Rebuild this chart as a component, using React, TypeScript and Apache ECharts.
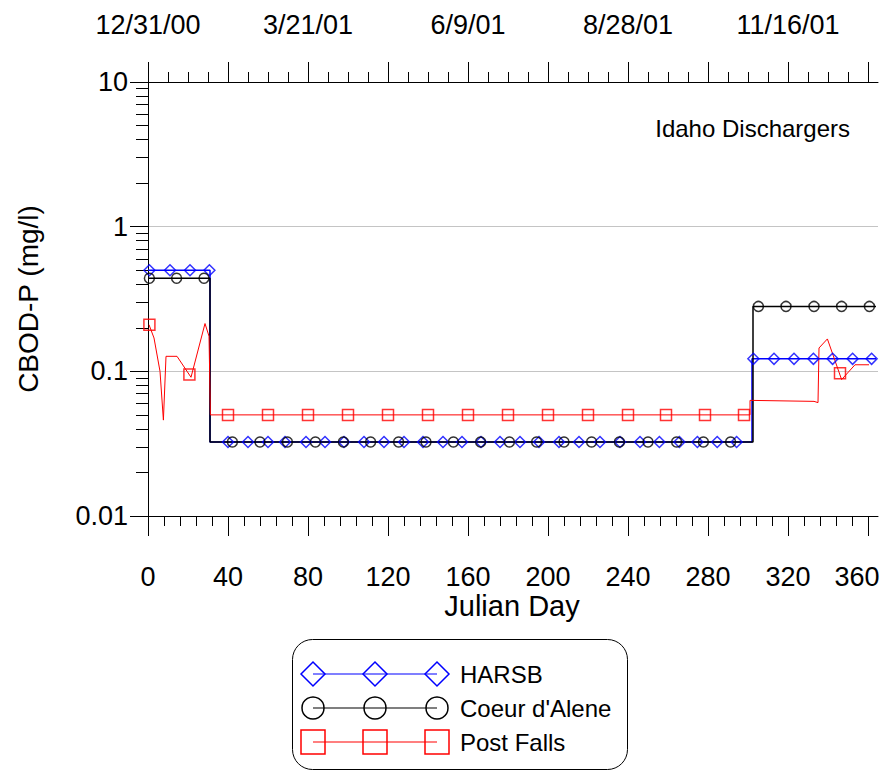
import React, { useEffect, useRef } from "react";
import * as echarts from "echarts";

// ---------- data ----------
const xMajorTicks = [0, 40, 80, 120, 160, 200, 240, 280, 320, 360];
const xBottomMinorStep = 8;
const xTopMinorStep = 10;
const topLabelDays = [0, 80, 160, 240, 320];
const topLabels = ["12/31/00", "3/21/01", "6/9/01", "8/28/01", "11/16/01"];
const yDecades = [0.01, 0.1, 1, 10];

const harsbLine: [number, number][] = [
  [0, 0.5], [31, 0.5], [31, 0.0325], [302, 0.0325], [302, 0.122], [364, 0.122],
];
const coeurLine: [number, number][] = [
  [0, 0.44], [31, 0.44], [31, 0.0325], [302.5, 0.0325], [302.5, 0.281], [364, 0.281],
];
const postFallsLine: [number, number][] = [
  [0.5, 0.21], [3, 0.17], [6, 0.1], [7.7, 0.046], [9, 0.127], [14.5, 0.127],
  [21.5, 0.091], [28.5, 0.214], [30.5, 0.175], [31.2, 0.05], [301, 0.05],
  [301, 0.063], [333, 0.062], [335, 0.0608], [335.5, 0.145], [339.7, 0.1675],
  [346.8, 0.0877], [353.5, 0.111], [360.5, 0.111],
];

// marker positions (days) grouped by level
const harsbLevels = [0.5, 0.0325, 0.122];
const harsbMarkerDays = [
  [0.7, 11, 21, 30.7],
  [40, 50, 60, 68.5, 79, 88.5, 98, 108, 118, 128, 137.5, 147.5, 157, 166.5, 176, 186,
    195.5, 205.5, 215.5, 226, 236, 246, 255.7, 265.7, 274.7, 284.6, 294.3],
  [302.7, 313, 323, 332.7, 342.3, 352.3, 361.8],
];
const coeurLevels = [0.44, 0.0325, 0.281];
const coeurMarkerDays = [
  [0.7, 14.3, 28],
  [42.2, 56, 69.7, 83.7, 97.7, 111.3, 125.3, 139, 152.7, 166.3, 180.7, 194.3, 208,
    221.8, 235.7, 250, 264.3, 277.7, 291.3],
  [305.2, 319, 333, 346.8, 360.7],
];
const postFallsMarkers: [number, number][] = [
  [0.7, 0.21], [20.7, 0.095],
  [40, 0.05], [60, 0.05], [80, 0.05], [100, 0.05], [120, 0.05], [140, 0.05],
  [160, 0.05], [180, 0.05], [200, 0.05], [220, 0.05], [240, 0.05], [259, 0.05],
  [278.5, 0.05], [298, 0.05],
  [346, 0.097],
];

const legendItems = [
  { name: "HARSB", color: "#0000ff", symbol: "diamond" },
  { name: "Coeur d'Alene", color: "#000000", symbol: "circle" },
  { name: "Post Falls", color: "#ff0000", symbol: "square" },
];

const FONT = "'Liberation Sans', Arial, Helvetica, sans-serif";

function minorBetween(majors: number[], step: number): number[] {
  const out: number[] = [];
  for (let i = 0; i < majors.length - 1; i++) {
    for (let v = majors[i] + step; v < majors[i + 1] - 1e-9; v += step) out.push(v);
  }
  return out;
}

function logMinor(decades: number[]): number[] {
  const out: number[] = [];
  for (let i = 0; i < decades.length - 1; i++) {
    for (let k = 2; k <= 9; k++) out.push(Math.log10(decades[i] * k));
  }
  return out;
}

function expand(levels: number[], days: number[][]): [number, number][] {
  const out: [number, number][] = [];
  days.forEach((group, i) => group.forEach((d) => out.push([d, levels[i]])));
  return out;
}

function buildLegend(): any[] {
  const els: any[] = [];
  const boxX = 292.5, boxY = 639.5, boxW = 335, boxH = 130;
  els.push({
    type: "rect",
    shape: { x: boxX, y: boxY, width: boxW, height: boxH, r: 20 },
    style: { fill: "#fff", stroke: "#000", lineWidth: 1 },
    z: 10,
  });
  const xs = [313, 375, 437];
  legendItems.forEach((it, i) => {
    const y = 674 + i * 34;
    els.push({
      type: "line",
      shape: { x1: xs[0], y1: y, x2: xs[2], y2: y },
      style: { stroke: it.color, lineWidth: 1.2 },
      z: 11,
    });
    xs.forEach((x) => {
      if (it.symbol === "diamond") {
        els.push({
          type: "polygon",
          shape: { points: [[x - 12, y], [x, y - 12], [x + 12, y], [x, y + 12]] },
          style: { fill: "none", stroke: it.color, lineWidth: 1.5 },
          z: 12,
        });
      } else if (it.symbol === "circle") {
        els.push({
          type: "circle",
          shape: { cx: x, cy: y, r: 11 },
          style: { fill: "none", stroke: it.color, lineWidth: 1.5 },
          z: 12,
        });
      } else {
        els.push({
          type: "rect",
          shape: { x: x - 12, y: y - 12, width: 24, height: 24 },
          style: { fill: "none", stroke: it.color, lineWidth: 1.5 },
          z: 12,
        });
      }
    });
    els.push({
      type: "text",
      x: 460,
      y: y,
      style: { text: it.name, fontSize: 24, fontFamily: FONT, fill: "#000", verticalAlign: "middle", align: "left" },
      z: 12,
    });
  });
  return els;
}

export default function App() {
  const ref = useRef<HTMLDivElement>(null);
  useEffect(() => {
    if (!ref.current) return;
    const chart = echarts.init(ref.current, null, { renderer: "svg" });
    const gridRect = { left: 148, right: 8, top: 82, bottom: 254, containLabel: false, outerBoundsMode: "none" };
    const labelStyle = { fontSize: 27, color: "#000", fontFamily: FONT };
    const black = { color: "#000", width: 1 };
    const lastMajor = xMajorTicks[xMajorTicks.length - 1];
    const option: any = {
      animation: false,
      backgroundColor: "#ffffff",
      grid: [
        { ...gridRect },
        { ...gridRect },
      ],
      xAxis: [
        {
          type: "value", gridIndex: 0, position: "bottom", min: 0, max: 365,
          axisLine: { show: true, onZero: false, lineStyle: black },
          axisTick: { show: true, customValues: xMajorTicks, length: 20, lineStyle: black },
          axisLabel: {
            show: true, customValues: xMajorTicks, margin: 47, ...labelStyle,
            formatter: (v: number) => (Math.round(v) === lastMajor ? "{last|" + v + "}" : String(v)),
            rich: { last: { fontSize: 27, color: "#000", fontFamily: FONT, padding: [0, 22, 0, 0] } },
          },
          splitLine: { show: false },
        },
        {
          type: "value", gridIndex: 0, position: "top", min: 0, max: 365,
          axisLine: { show: true, onZero: false, lineStyle: black },
          axisTick: { show: true, customValues: xMajorTicks, length: 20, lineStyle: black },
          axisLabel: {
            show: true, customValues: topLabelDays, margin: 44, ...labelStyle,
            formatter: (v: number) => topLabels[topLabelDays.indexOf(Math.round(v))] ?? "",
          },
          splitLine: { show: false },
        },
        {
          type: "value", gridIndex: 1, position: "bottom", min: 0, max: 365,
          axisLine: { show: false, onZero: false },
          axisTick: { show: true, customValues: minorBetween(xMajorTicks, xBottomMinorStep), length: 10, lineStyle: black },
          axisLabel: { show: false },
          splitLine: { show: false },
        },
        {
          type: "value", gridIndex: 1, position: "top", min: 0, max: 365,
          axisLine: { show: false, onZero: false },
          axisTick: { show: true, customValues: minorBetween(xMajorTicks, xTopMinorStep), length: 10, lineStyle: black },
          axisLabel: { show: false },
          splitLine: { show: false },
        },
      ],
      yAxis: [
        {
          type: "log", logBase: 10, gridIndex: 0, position: "left", min: 0.01, max: 10,
          axisLine: { show: true, onZero: false, lineStyle: black },
          axisTick: { show: true, length: 18, lineStyle: black },
          minorTick: { show: false },
          axisLabel: {
            show: true, margin: 20, ...labelStyle,
            formatter: (v: number) => String(+(+v).toPrecision(2)),
          },
          splitLine: { show: true, lineStyle: { color: "#c4c4c4", width: 1 } },
        },
        {
          type: "value", gridIndex: 1, position: "left", min: -2, max: 1,
          axisLine: { show: false, onZero: false },
          axisTick: { show: true, customValues: logMinor(yDecades), length: 12, lineStyle: black },
          axisLabel: { show: false },
          splitLine: { show: false },
        },
      ],
      series: [
        {
          name: "HARSB", type: "line", xAxisIndex: 0, yAxisIndex: 0, data: harsbLine,
          symbol: "none", showSymbol: false, silent: true,
          lineStyle: { color: "#0000ff", width: 1.5 }, z: 2,
        },
        {
          name: "Coeur d'Alene", type: "line", xAxisIndex: 0, yAxisIndex: 0, data: coeurLine,
          symbol: "none", showSymbol: false, silent: true,
          lineStyle: { color: "#000000", width: 1.5 }, z: 3,
        },
        {
          name: "Post Falls", type: "line", xAxisIndex: 0, yAxisIndex: 0, data: postFallsLine,
          symbol: "none", showSymbol: false, silent: true,
          lineStyle: { color: "#ff0000", width: 1 }, z: 4,
        },
        {
          name: "HARSB markers", type: "scatter", xAxisIndex: 0, yAxisIndex: 0,
          data: expand(harsbLevels, harsbMarkerDays), symbol: "diamond", symbolSize: 11, silent: true,
          itemStyle: { color: "rgba(0,0,0,0)", borderColor: "#0000ff", borderWidth: 1.5 }, z: 5,
        },
        {
          name: "Coeur markers", type: "scatter", xAxisIndex: 0, yAxisIndex: 0,
          data: expand(coeurLevels, coeurMarkerDays), symbol: "circle", symbolSize: 10, silent: true,
          itemStyle: { color: "rgba(0,0,0,0)", borderColor: "#000000", borderWidth: 1.5 }, z: 6,
        },
        {
          name: "Post Falls markers", type: "scatter", xAxisIndex: 0, yAxisIndex: 0,
          data: postFallsMarkers, symbol: "rect", symbolSize: 11, silent: true,
          itemStyle: { color: "rgba(0,0,0,0)", borderColor: "#ff0000", borderWidth: 1.5 }, z: 7,
        },
      ],
      graphic: [
        {
          type: "text", x: 28, y: 299, rotation: Math.PI / 2,
          style: { text: "CBOD-P (mg/l)", fontSize: 28, fontFamily: FONT, fill: "#000", align: "center", verticalAlign: "middle" },
        },
        {
          type: "text", x: 512, y: 606,
          style: { text: "Julian Day", fontSize: 29, fontFamily: FONT, fill: "#000", align: "center", verticalAlign: "middle" },
        },
        {
          type: "text", x: 850, y: 128,
          style: { text: "Idaho Dischargers", fontSize: 24, fontFamily: FONT, fill: "#000", align: "right", verticalAlign: "middle" },
        },
        ...buildLegend(),
      ],
    };
    chart.setOption(option);
    return () => chart.dispose();
  }, []);
  return (
    <div
      ref={ref}
      style={{ position: "fixed", left: 0, top: 0, width: 886, height: 770, background: "#fff" }}
    />
  );
}
